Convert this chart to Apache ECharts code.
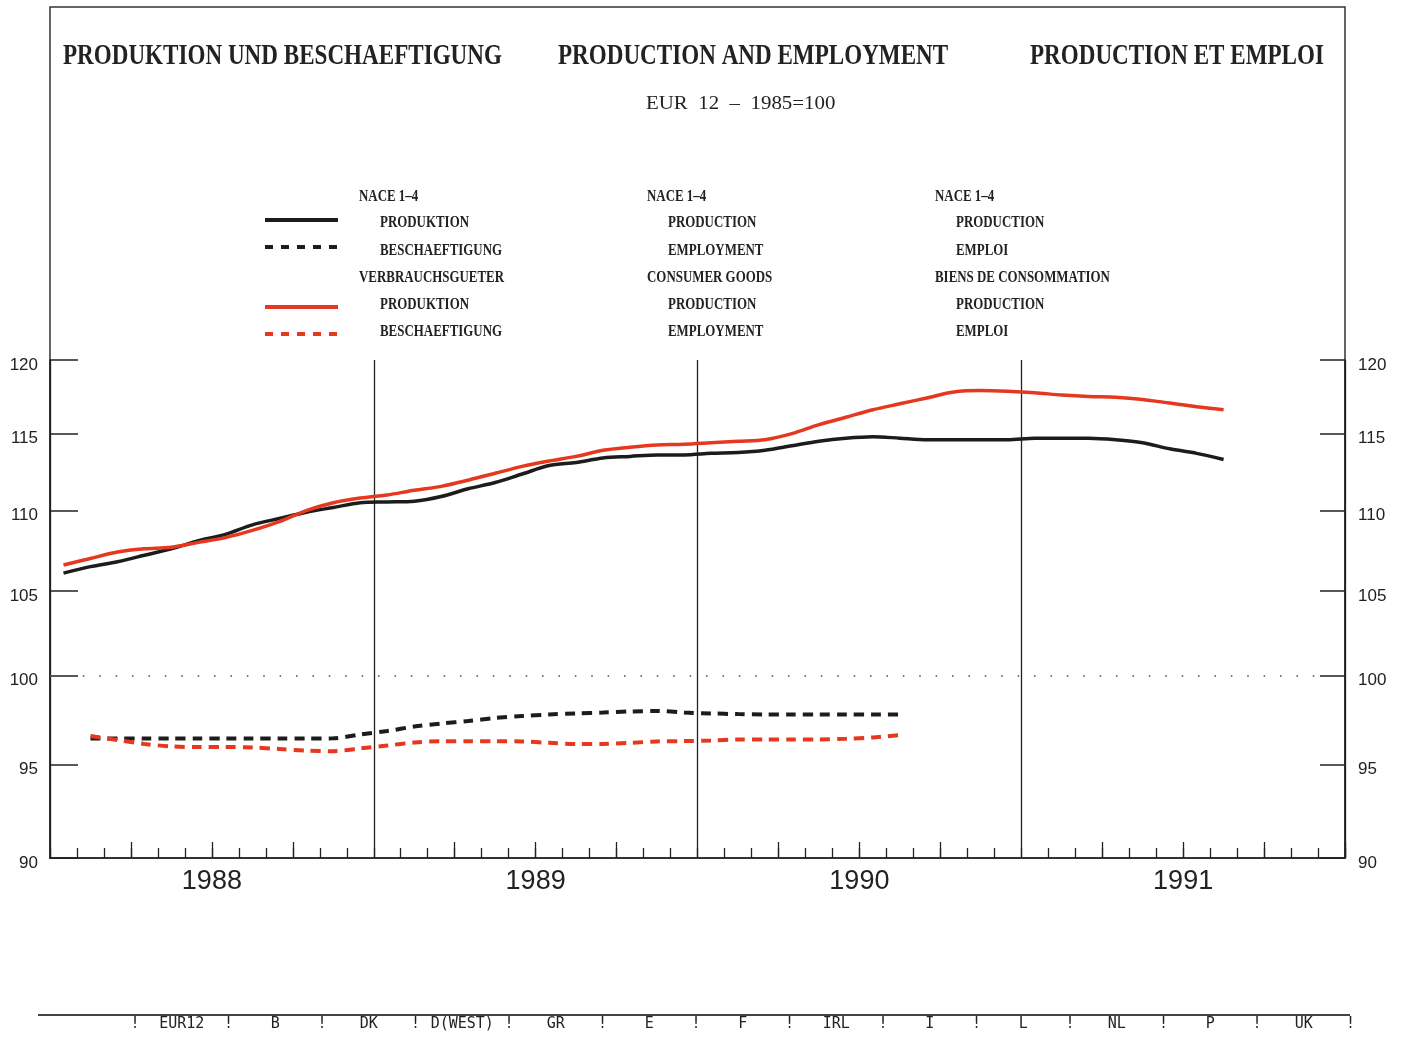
<!DOCTYPE html>
<html>
<head>
<meta charset="utf-8">
<script src="https://cdn.jsdelivr.net/npm/echarts@6/dist/echarts.min.js"></script>
<style>
html,body{margin:0;padding:0;background:#fff;}
#chart{width:1403px;height:1037px;}
</style>
</head>
<body>
<div id="chart"></div>
<script>
// ---- data ----
const months = [
 '1988-01','1988-02','1988-03','1988-04','1988-05','1988-06','1988-07','1988-08','1988-09','1988-10','1988-11','1988-12',
 '1989-01','1989-02','1989-03','1989-04','1989-05','1989-06','1989-07','1989-08','1989-09','1989-10','1989-11','1989-12',
 '1990-01','1990-02','1990-03','1990-04','1990-05','1990-06','1990-07','1990-08','1990-09','1990-10','1990-11','1990-12',
 '1991-01','1991-02','1991-03','1991-04','1991-05','1991-06','1991-07','1991-08','1991-09','1991-10','1991-11','1991-12'
];
const years = ['1988','1989','1990','1991'];
const yTicks = [90, 95, 100, 105, 110, 115, 120];

// NACE 1-4 production (black solid)
const prodNace = [
 106.1,106.5,106.8,107.2,107.6,108.1,108.5,109.1,109.5,109.9,110.2,110.5,
 110.55,110.6,110.9,111.4,111.8,112.35,112.9,113.1,113.4,113.5,113.6,113.6,
 113.7,113.75,113.9,114.2,114.5,114.7,114.8,114.7,114.6,114.6,114.6,114.6,
 114.7,114.7,114.7,114.6,114.4,114.0,113.7,113.3
];
// Consumer goods production (red solid)
const prodCons = [
 106.6,107.0,107.4,107.6,107.7,108.0,108.3,108.75,109.3,110.0,110.5,110.8,
 111.0,111.3,111.55,111.95,112.4,112.85,113.2,113.5,113.9,114.1,114.25,114.3,
 114.4,114.5,114.6,115.0,115.6,116.1,116.6,117.0,117.4,117.8,117.9,117.85,
 117.75,117.6,117.5,117.45,117.3,117.05,116.8,116.6
];
// NACE 1-4 employment (black dashed)
const empNace = [
 null,96.43,96.43,96.43,96.43,96.43,96.43,96.43,96.43,96.43,96.44,96.66,
 96.85,97.1,97.27,97.41,97.58,97.69,97.78,97.84,97.89,97.95,97.98,97.89,
 97.84,97.8,97.78,97.78,97.78,97.78,97.78,97.78
];
// Consumer goods employment (red dashed)
const empCons = [
 null,96.57,96.35,96.13,95.99,95.96,95.96,95.93,95.85,95.76,95.73,95.88,
 96.04,96.21,96.28,96.28,96.28,96.27,96.19,96.13,96.13,96.19,96.27,96.29,
 96.32,96.38,96.38,96.38,96.38,96.42,96.49,96.63
];

const countries = ['EUR12','B','DK','D(WEST)','GR','E','F','IRL','I','L','NL','P','UK'];
const titles = ['PRODUKTION UND BESCHAEFTIGUNG','PRODUCTION AND EMPLOYMENT','PRODUCTION ET EMPLOI'];
const subtitle = 'EUR  12  \u2013  1985=100';
const legendDe = ['NACE 1\u20134','PRODUKTION','BESCHAEFTIGUNG','VERBRAUCHSGUETER','PRODUKTION','BESCHAEFTIGUNG'];
const legendEn = ['NACE 1\u20134','PRODUCTION','EMPLOYMENT','CONSUMER GOODS','PRODUCTION','EMPLOYMENT'];
const legendFr = ['NACE 1\u20134','PRODUCTION','EMPLOI','BIENS DE CONSOMMATION','PRODUCTION','EMPLOI'];

// ---- styling ----
const BLACK = '#1c1c1c';
const RED = '#e5381f';
const INK = '#222';

const graphics = [];
// frame
graphics.push({type:'rect', shape:{x:50, y:7, width:1295, height:851}, style:{fill:null, stroke:'#333', lineWidth:1.5}, z:0, silent:true});
// titles
const titleX = [63, 558, 1030];
titles.forEach((t,i)=>{
  graphics.push({type:'text', x:titleX[i], y:56, scaleX:0.77, style:{text:t, fontFamily:'"Liberation Serif"', fontWeight:'bold', fontSize:30, fill:INK, verticalAlign:'middle', align:'left'}});
});
graphics.push({type:'text', x:646, y:104, scaleX:1.1, style:{text:subtitle, fontFamily:'"Liberation Serif"', fontSize:19, fill:INK, verticalAlign:'middle', align:'left'}});
// legend text
const rowsY = [197, 223, 251, 278, 305, 332];
const colX = [359, 647, 935];
[legendDe, legendEn, legendFr].forEach((col,ci)=>{
  col.forEach((t,ri)=>{
    const indent = (ri===0 || ri===3) ? 0 : 21;
    graphics.push({type:'text', x:colX[ci]+indent, y:rowsY[ri], scaleX:0.76, style:{text:t, fontFamily:'"Liberation Serif"', fontWeight:'bold', fontSize:17, fill:INK, verticalAlign:'middle', align:'left'}});
  });
});
// legend samples
const sample = (y, color, dash) => ({type:'line', shape:{x1:265, y1:y, x2:338, y2:y}, style:{stroke:color, lineWidth:4, lineDash:dash}});
graphics.push(sample(220, BLACK, null));
graphics.push(sample(247, BLACK, [8,8]));
graphics.push(sample(307, RED, null));
graphics.push(sample(334, RED, [8,8]));
// bottom country row
graphics.push({type:'line', shape:{x1:38, y1:1015, x2:1350, y2:1015}, style:{stroke:'#444', lineWidth:2}});
for (let i = 0; i <= countries.length; i++) {
  graphics.push({type:'text', x:135 + i*93.5, y:1024, style:{text:'!', fontFamily:'"DejaVu Sans Mono"', fontSize:15, fill:INK, align:'center', verticalAlign:'middle'}});
}
countries.forEach((c,i)=>{
  graphics.push({type:'text', x:135 + (i+0.5)*93.5, y:1024, style:{text:c, fontFamily:'"DejaVu Sans Mono"', fontSize:15, fill:INK, align:'center', verticalAlign:'middle'}});
});

const yAxisBase = (pos, tickLen, margin) => ({
  type:'log', logBase:10, min:90, max:120, position:pos,
  axisLine:{show:true, lineStyle:{color:'#222', width:1.5}},
  axisTick:{show:true, inside:true, length:tickLen, customValues:yTicks, lineStyle:{color:'#222', width:1.5}},
  axisLabel:{show:true, customValues:yTicks, fontFamily:'"Liberation Sans"', fontSize:17, color:INK, margin:margin, verticalAlign:'top', lineHeight:10},
  splitLine:{show:false}
});

const lineSeries = (name, data, color, dashed) => ({
  name, type:'line', data, xAxisIndex:0, yAxisIndex:0,
  symbol:'none', smooth:0.3, connectNulls:false,
  lineStyle:{color, width: dashed ? 4 : 3.5, type: dashed ? [10,7] : 'solid'},
  z:5
});

const option = {
  backgroundColor:'#ffffff',
  animation:false,
  grid:{left:50, right:58, top:360, bottom:179, containLabel:false},
  xAxis:[
    {type:'category', data:months, boundaryGap:true, position:'bottom', offset:0,
     axisLine:{show:true, lineStyle:{color:'#222', width:1.5}},
     axisTick:{show:true, inside:true, length:10, interval:0, lineStyle:{color:'#222', width:1.3}},
     axisLabel:{show:false}, splitLine:{show:false}},
    {type:'category', data:months, boundaryGap:true, position:'bottom', offset:0,
     axisLine:{show:false},
     axisTick:{show:true, inside:true, length:16, interval:(i)=> i%3===0 && i%12!==0, lineStyle:{color:'#222', width:1.3}},
     axisLabel:{show:false}, splitLine:{show:false}},
    {type:'category', data:years, boundaryGap:true, position:'bottom', offset:0,
     axisLine:{show:false}, axisTick:{show:false},
     axisLabel:{show:true, fontFamily:'"Liberation Sans"', fontSize:27, color:INK, margin:10},
     splitLine:{show:true, interval:0, lineStyle:{color:'#222', width:1.3}}}
  ],
  yAxis:[ yAxisBase('left', 28, 12), yAxisBase('right', 25, 13) ],
  series:[
    Object.assign(lineSeries('NACE 1-4 Produktion', prodNace, BLACK, false), {
      markLine:{silent:true, symbol:'none', label:{show:false},
        lineStyle:{color:'#555', width:1.6, type:[1.6,14.8]},
        data:[{yAxis:100}]}
    }),
    lineSeries('Verbrauchsgueter Produktion', prodCons, RED, false),
    lineSeries('NACE 1-4 Beschaeftigung', empNace, BLACK, true),
    lineSeries('Verbrauchsgueter Beschaeftigung', empCons, RED, true)
  ],
  graphic: graphics
};

const chart = echarts.init(document.getElementById('chart'), null, {renderer:'canvas'});
chart.setOption(option);
</script>
</body>
</html>
